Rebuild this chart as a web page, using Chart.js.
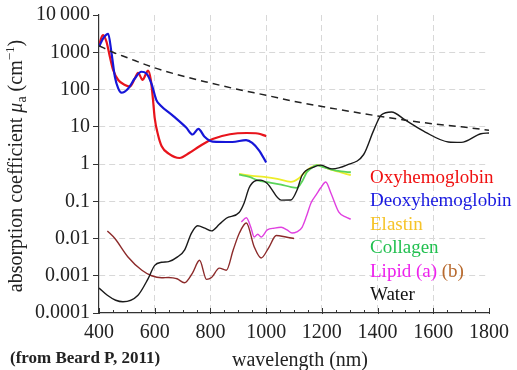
<!DOCTYPE html>
<html><head><meta charset="utf-8">
<script src="https://cdn.jsdelivr.net/npm/chart.js@4.4.1/dist/chart.umd.min.js"></script>
<style>html,body{margin:0;padding:0;background:#fff}#wrap{position:relative;width:517px;height:370px}</style>
</head><body><div id="wrap"><canvas id="c"></canvas></div>
<script>
// ---- data ----
const oxyNm  = [400, 407, 415, 427, 439, 451, 469, 493, 511, 529, 540, 552, 557, 566, 576, 586, 594, 600, 612, 625, 650, 689, 725, 761, 808, 870, 930, 970, 1000];
const oxyVal = [1400, 2300, 2900, 1900, 760, 330, 180, 132, 120, 200, 280, 200, 180, 240, 320, 180, 52, 17, 6, 3.0, 1.9, 1.45, 2.0, 3.0, 4.7, 6.3, 6.8, 6.6, 5.6];

const deoxyNm  = [400, 415, 433, 445, 457, 469, 481, 505, 529, 552, 570, 588, 606, 620, 668, 713, 736, 757, 778, 808, 879, 928, 950, 975, 1000];
const deoxyVal = [1400, 2350, 3100, 940, 220, 107, 82, 107, 200, 300, 270, 147, 52, 38, 19, 9.5, 6.2, 8.8, 5.5, 4.0, 3.9, 4.4, 3.7, 2.3, 1.1];

const elastinNm  = [903, 950, 993, 1040, 1089, 1115, 1136, 1160, 1182, 1200, 1218, 1260, 1304];
const elastinVal = [0.54, 0.48, 0.45, 0.40, 0.33, 0.40, 0.57, 0.80, 0.93, 0.88, 0.77, 0.62, 0.50];

const collagenNm  = [903, 940, 968, 1010, 1054, 1090, 1111, 1130, 1146, 1165, 1182, 1200, 1232, 1270, 1304];
const collagenVal = [0.52, 0.45, 0.37, 0.32, 0.28, 0.24, 0.23, 0.35, 0.60, 0.80, 0.93, 0.85, 0.72, 0.63, 0.60];

const lipidANm  = [911, 929, 945, 957, 970, 982, 1004, 1030, 1054, 1075, 1093, 1110, 1129, 1145, 1161, 1180, 1196, 1214, 1232, 1261, 1285, 1304];
const lipidAVal = [0.028, 0.036, 0.02, 0.011, 0.013, 0.011, 0.017, 0.019, 0.02, 0.017, 0.014, 0.015, 0.02, 0.04, 0.09, 0.15, 0.23, 0.33, 0.17, 0.051, 0.038, 0.033];

const lipidBNm  = [430, 457, 504, 554, 589, 625, 650, 665, 680, 707, 736, 761, 786, 804, 832, 857, 882, 904, 929, 957, 982, 1011, 1036, 1071, 1100];
const lipidBVal = [0.016, 0.01, 0.0032, 0.0014, 0.001, 0.00088, 0.0009, 0.00088, 0.00083, 0.00065, 0.0012, 0.0026, 0.0008, 0.0009, 0.0016, 0.0014, 0.005, 0.014, 0.026, 0.006, 0.003, 0.006, 0.012, 0.011, 0.01];

const waterNm  = [400, 430, 460, 486, 540, 575, 600, 625, 650, 682, 707, 732, 754, 780, 804, 832, 857, 903, 921, 939, 964, 980, 1004, 1054, 1089, 1111, 1129, 1171, 1196, 1236, 1289, 1350, 1386, 1414, 1450, 1500, 1571, 1654, 1700, 1771, 1800];
const waterVal = [0.00047, 0.0003, 0.00022, 0.0002, 0.0003, 0.0008, 0.0019, 0.0023, 0.0024, 0.0032, 0.0049, 0.014, 0.022, 0.019, 0.016, 0.024, 0.035, 0.05, 0.09, 0.23, 0.36, 0.37, 0.3, 0.107, 0.108, 0.2, 0.5, 0.83, 0.93, 0.74, 0.93, 1.8, 8, 21, 25, 15, 7.2, 3.9, 3.8, 6.5, 6.8];

const scatterNm  = [400, 450, 500, 600, 700, 800, 900, 1000, 1100, 1200, 1300, 1400, 1500, 1600, 1700, 1800];
const scatterVal = [1500, 1000, 720, 380, 230, 150, 100, 70, 48, 35, 26, 19.5, 15, 12, 10, 8];

const yTickValues = [0.0001, 0.001, 0.01, 0.1, 1, 10, 100, 1000, 10000];
const yTickLabels = ['0.0001', '0.001', '0.01', '0.1', '1', '10', '100', '1000', '10\u2009000'];
const xTickValues = [400, 600, 800, 1000, 1200, 1400, 1600, 1800];
const xMinorStep = 50;

const legendLabels = ['Oxyhemoglobin', 'Deoxyhemoglobin', 'Elastin', 'Collagen', 'Lipid (a)', 'Water'];
const legendExtra = ' (b)';
const sourceNote = '(from Beard P, 2011)';
const xTitle = 'wavelength (nm)';

// ---- styles ----
const SERIF = "'Liberation Serif', 'Times New Roman', serif";
const C = {
  oxy: '#e8141c', deoxy: '#1616d8', elastin: '#eded2a', collagen: '#5ad45a',
  lipidA: '#e040e0', lipidB: '#8c2a2a', water: '#1a1a1a', scatter: '#222'
};
const legendColors = ['#f01010', '#1a1ae0', '#f6c42a', '#22c050', '#ee22ee', '#111'];
const legendExtraColor = '#b86a2e';

const zip = (xs, ys) => xs.map((x, i) => ({x: x, y: ys[i]}));
function ds(label, xs, ys, color, width, dash) {
  return { label, data: zip(xs, ys), borderColor: color, backgroundColor: color,
    borderWidth: width, borderDash: dash || [], pointRadius: 0, fill: false,
    cubicInterpolationMode: 'monotone', tension: 0.4 };
}

const annot = {
  id: 'annot',
  afterDraw(chart) {
    const ctx = chart.ctx;
    const xs = chart.scales.x, ys = chart.scales.y;
    const bottom = chart.chartArea.bottom;
    ctx.save();
    // inner x ticks
    ctx.strokeStyle = '#333'; ctx.lineWidth = 1;
    for (let v = xs.min; v <= xs.max; v += xMinorStep) {
      const px = Math.round(xs.getPixelForValue(v)) + 0.5;
      const major = xTickValues.includes(v);
      ctx.beginPath();
      ctx.moveTo(px, bottom - (major ? 5 : 3));
      ctx.lineTo(px, bottom + (major ? 1 : 0));
      ctx.stroke();
    }
    // legend
    ctx.font = '19px ' + SERIF;
    ctx.textBaseline = 'alphabetic'; ctx.textAlign = 'left';
    const lx = 370, ly0 = 183, dy = 23.4;
    legendLabels.forEach((t, i) => {
      ctx.fillStyle = legendColors[i];
      ctx.fillText(t, lx, ly0 + i * dy);
      if (i === 4) {
        const w = ctx.measureText(t).width;
        ctx.fillStyle = legendExtraColor;
        ctx.fillText(legendExtra, lx + w, ly0 + i * dy);
      }
    });
    // x title
    ctx.fillStyle = '#222';
    ctx.font = '20px ' + SERIF; ctx.textAlign = 'center';
    ctx.fillText(xTitle, 300, 366);
    // source
    ctx.font = 'bold 17px ' + SERIF; ctx.textAlign = 'left';
    ctx.fillText(sourceNote, 10, 363);
    // y title with sub/superscripts
    const pieces = [
      ['absorption coefficient ', '20px ' + SERIF, 0],
      ['\u03bc', 'italic 20px ' + SERIF, 0],
      ['a', '14px ' + SERIF, 4],
      [' (cm', '20px ' + SERIF, 0],
      ['\u22121', '13px ' + SERIF, -8],
      [')', '20px ' + SERIF, 0]
    ];
    let total = 0;
    pieces.forEach(p => { ctx.font = p[1]; p.w = ctx.measureText(p[0]).width; total += p.w; });
    ctx.translate(22, (chart.chartArea.top + chart.chartArea.bottom) / 2 + 2);
    ctx.rotate(-Math.PI / 2);
    let cx = -total / 2;
    pieces.forEach(p => { ctx.font = p[1]; ctx.fillText(p[0], cx, p[2]); cx += p.w; });
    ctx.restore();
  }
};

Chart.defaults.font.family = SERIF;
Chart.defaults.color = '#222';

new Chart(document.getElementById('c'), {
  type: 'line',
  data: {
    datasets: [
      ds('Scattering', scatterNm, scatterVal, C.scatter, 1.5, [7, 5]),
      ds('Water', waterNm, waterVal, C.water, 1.4),
      ds('Lipid (b)', lipidBNm, lipidBVal, C.lipidB, 1.4),
      ds('Lipid (a)', lipidANm, lipidAVal, C.lipidA, 1.4),
      ds('Collagen', collagenNm, collagenVal, C.collagen, 1.8),
      ds('Elastin', elastinNm, elastinVal, C.elastin, 1.8),
      ds('Deoxyhemoglobin', deoxyNm, deoxyVal, C.deoxy, 2.2),
      ds('Oxyhemoglobin', oxyNm, oxyVal, C.oxy, 2.2)
    ]
  },
  options: {
    responsive: true, maintainAspectRatio: false, animation: false,
    layout: { padding: { top: 15, right: 26, left: 0, bottom: 0 } },
    plugins: { legend: { display: false }, tooltip: { enabled: false } },
    scales: {
      x: {
        type: 'linear', min: 400, max: 1800,
        afterBuildTicks: s => { s.ticks = xTickValues.map(v => ({value: v})); },
        afterFit: s => { s.height = 57; },
        ticks: { font: { size: 20 }, color: '#222', padding: 8, maxRotation: 0, autoSkip: false,
          callback: v => String(v) },
        grid: { drawTicks: false,
          color: c => (c.tick && (c.tick.value === 400 || c.tick.value === 1800)) ? 'rgba(0,0,0,0)' : '#d8d8d8',
          lineWidth: 1 },
        border: { display: true, color: '#333', width: 1.2, dash: [6, 4] }
      },
      y: {
        type: 'logarithmic', min: 0.0001, max: 10000,
        afterBuildTicks: s => { s.ticks = yTickValues.map(v => ({value: v})); },
        afterFit: s => { s.width = 99; },
        ticks: { font: { size: 20 }, color: '#222', padding: 3, autoSkip: false,
          callback: (v, i) => yTickLabels[i] },
        grid: { drawTicks: true, tickLength: 6, tickColor: '#333', tickWidth: 1, tickBorderDash: [],
          color: c => (c.tick && (c.tick.value === 10000 || c.tick.value === 0.0001)) ? 'rgba(0,0,0,0)' : '#d8d8d8',
          lineWidth: 1 },
        border: { display: true, color: '#333', width: 1.2, dash: [6, 4] }
      }
    }
  },
  plugins: [annot]
});
</script>
</body></html>
